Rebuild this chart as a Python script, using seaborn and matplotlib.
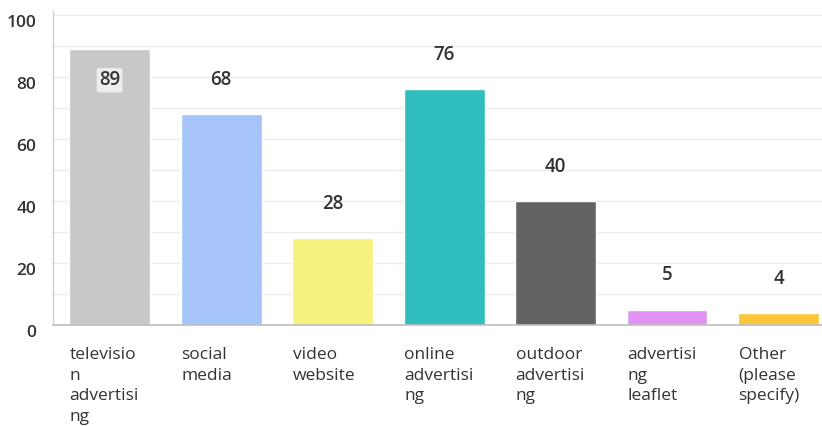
import matplotlib
matplotlib.use("Agg")
import matplotlib.pyplot as plt
import matplotlib.transforms as mtransforms
import seaborn as sns
import pandas as pd

categories = [
    "televisio\nn\nadvertisi\nng",
    "social\nmedia",
    "video\nwebsite",
    "online\nadvertisi\nng",
    "outdoor\nadvertisi\nng",
    "advertisi\nng\nleaflet",
    "Other\n(please\nspecify)",
]
values = [89, 68, 28, 76, 40, 5, 4]
colors = ["#c8c8c8", "#a6c4fa", "#f6f27d", "#2fbdbd", "#636363", "#e292f2", "#fbc638"]
y_ticks = [0, 20, 40, 60, 80, 100]

sns.set_theme(style="white")
plt.rcParams["font.family"] = ["Open Sans", "DejaVu Sans"]

df = pd.DataFrame({"cat": categories, "val": values})

fig = plt.figure(figsize=(8.22, 4.26), dpi=100)
ax = fig.add_axes([0.0645, 0.237, 0.9355, 0.737])

sns.barplot(data=df, x="cat", y="val", hue="cat", palette=colors,
            width=0.726, legend=False, ax=ax, saturation=1)

ax.set_ylim(0, 101.3)
ax.set_xlim(-0.507, 6.39)

# light gridlines every 10 units
for g in range(10, 101, 10):
    ax.axhline(g, color="#ebebeb", lw=1.0, zorder=0)
ax.set_axisbelow(True)

for s in ["top", "right"]:
    ax.spines[s].set_visible(False)
ax.spines["left"].set_color("#cfcfcf")
ax.spines["bottom"].set_color("#bdbdbd")
ax.spines["left"].set_linewidth(1.0)
ax.spines["bottom"].set_linewidth(1.2)

ax.set_xlabel("")
ax.set_ylabel("")
ax.set_yticks(y_ticks)
ax.set_yticklabels([str(t) for t in y_ticks], fontsize=12.5, color="#333333",
                   fontweight="semibold")
ax.tick_params(axis="y", length=0, pad=12)
ax.tick_params(axis="x", length=0, pad=16)

ylab_off = mtransforms.ScaledTranslation(0, -6 / 100, fig.dpi_scale_trans)
for lab in ax.get_yticklabels():
    lab.set_transform(lab.get_transform() + ylab_off)

ax.set_xticks(range(len(categories)))
ax.set_xticklabels(categories, fontsize=12.5, color="#333333", ha="left",
                   linespacing=1.38, fontweight="medium")
xlab_off = mtransforms.ScaledTranslation(-40 / 100, 0, fig.dpi_scale_trans)
for lab in ax.get_xticklabels():
    lab.set_transform(lab.get_transform() + xlab_off)

# value labels above bars, kept inside the top when there is no room
for i, v in enumerate(values):
    y = v + 11
    if y > 97:
        ax.text(i, v - 10, str(v), ha="center", va="center", fontsize=13.5,
                color="#333333", fontweight="semibold",
                bbox=dict(boxstyle="round,pad=0.12", fc="#f4f4f4", ec="none", alpha=0.85))
    else:
        ax.text(i, y, str(v), ha="center", va="center", fontsize=13.5,
                color="#333333", fontweight="semibold")

fig.savefig("out.png", dpi=100)
